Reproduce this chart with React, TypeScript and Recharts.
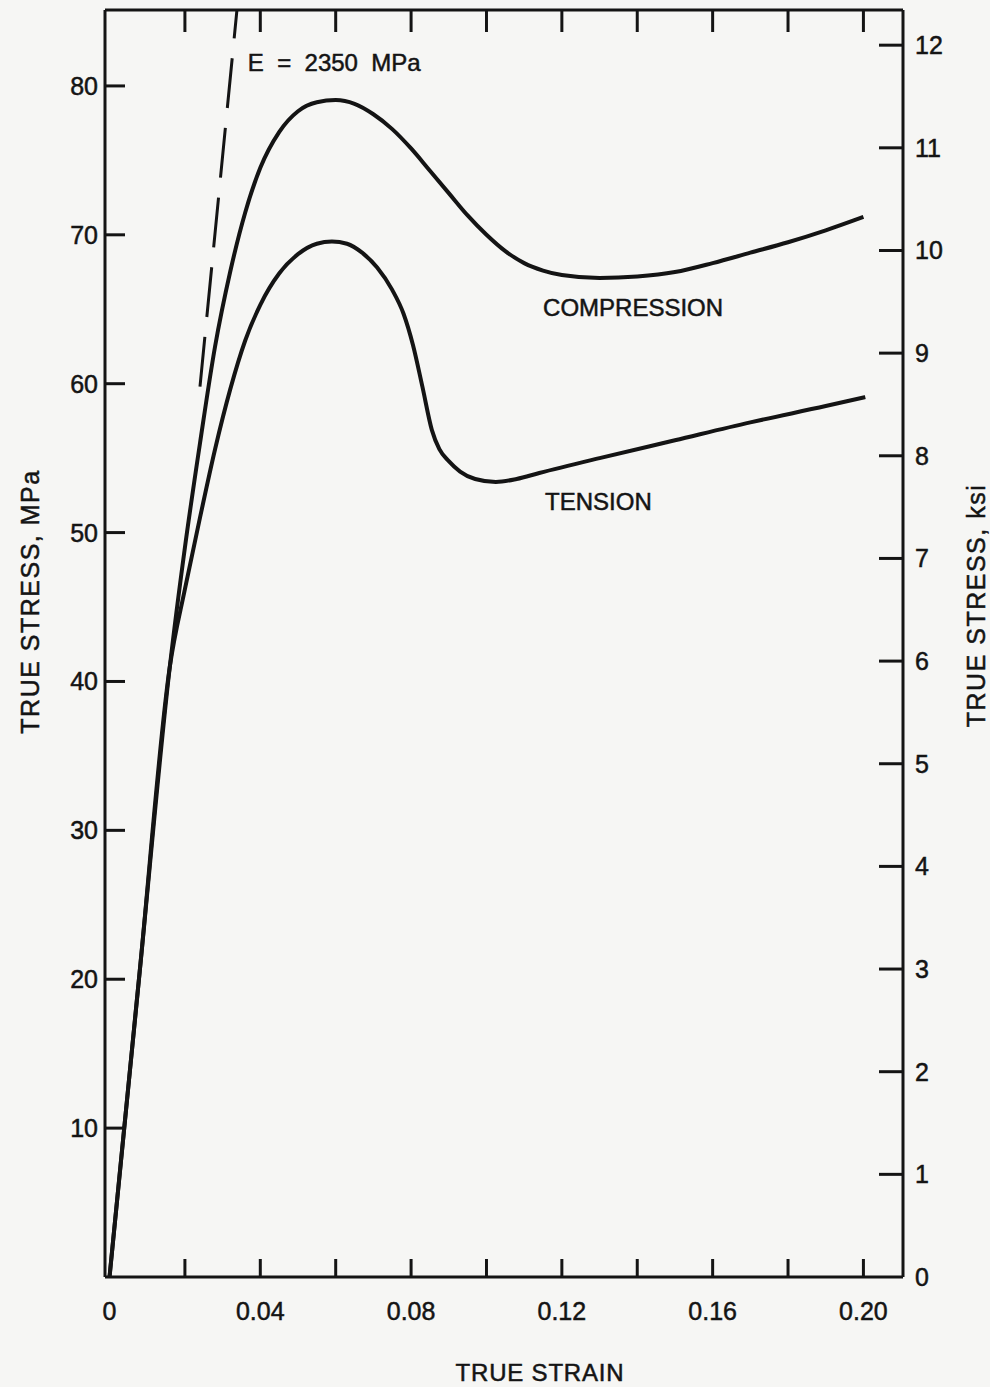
import { LineChart, Line, XAxis, YAxis, ReferenceDot } from "recharts";

const INK = "#141414";
const PAPER = "#f6f6f4";
const FONT = '"Liberation Sans", Arial, Helvetica, sans-serif';

// true strain vs true stress (MPa)
const compressionStrain = [
  0, 0.008, 0.016, 0.02, 0.024, 0.028, 0.032, 0.036, 0.04, 0.045, 0.05, 0.055, 0.06, 0.065, 0.07,
  0.075, 0.08, 0.085, 0.09, 0.095, 0.1, 0.105, 0.11, 0.115, 0.12, 0.13, 0.14, 0.15, 0.16, 0.17,
  0.18, 0.19, 0.2,
];
const compressionStress = [
  0, 20.5, 41, 49, 56, 62.5, 67.5, 71.5, 74.5, 76.9, 78.3, 78.9, 79.05, 78.8, 78.1,
  77.1, 75.8, 74.3, 72.8, 71.3, 70, 68.9, 68.1, 67.6, 67.3, 67.1, 67.2, 67.5, 68.1, 68.8,
  69.5, 70.3, 71.2,
];

const tensionStrain = [
  0, 0.008, 0.016, 0.02, 0.024, 0.028, 0.032, 0.036, 0.04, 0.045, 0.05, 0.055, 0.059, 0.063, 0.067,
  0.071, 0.075, 0.078, 0.0805, 0.083, 0.0855, 0.0875, 0.09, 0.093, 0.097, 0.1025, 0.108, 0.114,
  0.13, 0.15, 0.17, 0.19, 0.2005,
];
const tensionStress = [
  0, 20.5, 41, 46.2, 51, 55.6, 59.6, 62.9, 65.3, 67.4, 68.7, 69.4, 69.55, 69.4, 68.8,
  67.8, 66.3, 64.7, 62.6, 59.8, 56.9, 55.6, 54.8, 54.1, 53.6, 53.4, 53.6, 54,
  55, 56.2, 57.4, 58.5, 59.1,
];

// dashed modulus line, E = 2350 MPa
const modulusStrain = [0.024, 0.0338];
const modulusStress = [59.8, 85.1];

const strainTicks = [0, 0.02, 0.04, 0.06, 0.08, 0.1, 0.12, 0.14, 0.16, 0.18, 0.2];
const strainTickLabels = ["0", "", "0.04", "", "0.08", "", "0.12", "", "0.16", "", "0.20"];
const mpaTicks = [10, 20, 30, 40, 50, 60, 70, 80];
const ksiTicks = [0, 1, 2, 3, 4, 5, 6, 7, 8, 9, 10, 11, 12];

const MPA_PER_KSI = 6.8948;
const STRAIN_DOMAIN = [-0.0012, 0.2105];
const MPA_DOMAIN = [0, 85.1];
const KSI_DOMAIN = [0, 85.1 / MPA_PER_KSI];

const toPoints = (xs: number[], ys: number[]) => xs.map((strain, i) => ({ strain, stress: ys[i] }));

const compression = toPoints(compressionStrain, compressionStress);
const tension = toPoints(tensionStrain, tensionStress);
const modulus = toPoints(modulusStrain, modulusStress);

// scanned type is a little heavier than the regular face
const textStyle = { fontFamily: FONT, fill: INK, stroke: INK, strokeWidth: 0.5 };

const BottomTick = (p: any) => {
  const label = strainTickLabels[strainTicks.indexOf(p.payload.value)] ?? "";
  return (
    <g>
      {p.payload.value > 0 && <line x1={p.x} y1={p.y} x2={p.x} y2={p.y - 18} stroke={INK} strokeWidth={3} />}
      {label && (
        <text x={p.x} y={p.y + 34} textAnchor="middle" dominantBaseline="central" fontSize={25} {...textStyle}>
          {label}
        </text>
      )}
    </g>
  );
};

const TopTick = (p: any) =>
  p.payload.value > 0 ? <line x1={p.x} y1={p.y} x2={p.x} y2={p.y + 22} stroke={INK} strokeWidth={3} /> : <g />;

const LeftTick = (p: any) => (
  <g>
    <line x1={p.x} y1={p.y} x2={p.x + 20} y2={p.y} stroke={INK} strokeWidth={3} />
    <text x={p.x - 7} y={p.y} textAnchor="end" dominantBaseline="central" fontSize={25} {...textStyle}>
      {p.payload.value}
    </text>
  </g>
);

const RightTick = (p: any) => (
  <g>
    {p.payload.value > 0 && <line x1={p.x} y1={p.y} x2={p.x - 24} y2={p.y} stroke={INK} strokeWidth={3} />}
    <text x={p.x + 12} y={p.y} textAnchor="start" dominantBaseline="central" fontSize={25} {...textStyle}>
      {p.payload.value}
    </text>
  </g>
);

const VerticalTitle = ({ viewBox, dx, dy, text }: any) => {
  const cx = viewBox.x + dx;
  const cy = viewBox.y + viewBox.height / 2 + dy;
  return (
    <text
      x={cx}
      y={cy}
      transform={`rotate(-90 ${cx} ${cy})`}
      textAnchor="middle"
      dominantBaseline="central"
      fontSize={25}
      letterSpacing={1.5}
      {...textStyle}
    >
      {text}
    </text>
  );
};

const StrainTitle = ({ viewBox }: any) => (
  <text
    x={viewBox.x + viewBox.width / 2 + 36}
    y={viewBox.y + 95}
    textAnchor="middle"
    dominantBaseline="central"
    fontSize={24}
    letterSpacing={0.8}
    {...textStyle}
  >
    TRUE STRAIN
  </text>
);

const note = (value: string, anchor: "middle" | "start") => (p: any) => {
  const vb = p.viewBox;
  return (
    <text
      x={vb.x + (vb.width || 0) / 2}
      y={vb.y + (vb.height || 0) / 2}
      textAnchor={anchor}
      dominantBaseline="central"
      fontSize={24}
      style={{ whiteSpace: "pre" }}
      {...textStyle}
    >
      {value}
    </text>
  );
};

export default function App() {
  return (
    <div style={{ position: "absolute", left: 0, top: 0, width: 990, height: 1387, background: PAPER }}>
      <LineChart width={990} height={1387} margin={{ top: 0, right: 0, bottom: 0, left: 0 }}>
        <XAxis
          xAxisId="bottom"
          dataKey="strain"
          type="number"
          domain={STRAIN_DOMAIN}
          ticks={strainTicks}
          allowDataOverflow
          height={110}
          tickSize={0}
          tickMargin={0}
          tickLine={false}
          interval={0}
          axisLine={{ stroke: INK, strokeWidth: 3 }}
          tick={<BottomTick />}
          label={{ content: <StrainTitle /> }}
        />
        <XAxis
          xAxisId="top"
          orientation="top"
          dataKey="strain"
          type="number"
          domain={STRAIN_DOMAIN}
          ticks={strainTicks}
          allowDataOverflow
          height={10}
          tickSize={0}
          tickMargin={0}
          tickLine={false}
          interval={0}
          axisLine={{ stroke: INK, strokeWidth: 3 }}
          tick={<TopTick />}
        />
        <YAxis
          yAxisId="mpa"
          type="number"
          domain={MPA_DOMAIN}
          ticks={mpaTicks}
          allowDataOverflow
          width={105}
          tickSize={0}
          tickMargin={0}
          tickLine={false}
          interval={0}
          axisLine={{ stroke: INK, strokeWidth: 3 }}
          tick={<LeftTick />}
          label={{ content: <VerticalTitle dx={30} dy={-42} text="TRUE STRESS, MPa" /> }}
        />
        <YAxis
          yAxisId="ksi"
          orientation="right"
          type="number"
          domain={KSI_DOMAIN}
          ticks={ksiTicks}
          allowDataOverflow
          width={87}
          tickSize={0}
          tickMargin={0}
          tickLine={false}
          interval={0}
          axisLine={{ stroke: INK, strokeWidth: 3 }}
          tick={<RightTick />}
          label={{ content: <VerticalTitle dx={73} dy={-38} text="TRUE STRESS, ksi" /> }}
        />

        <Line
          xAxisId="bottom"
          yAxisId="mpa"
          data={modulus}
          dataKey="stress"
          type="linear"
          stroke={INK}
          strokeWidth={3}
          strokeDasharray="50 20"
          dot={false}
          activeDot={false}
          isAnimationActive={false}
        />
        <Line
          xAxisId="bottom"
          yAxisId="mpa"
          data={compression}
          dataKey="stress"
          type="monotone"
          stroke={INK}
          strokeWidth={4}
          dot={false}
          activeDot={false}
          isAnimationActive={false}
        />
        <Line
          xAxisId="bottom"
          yAxisId="mpa"
          data={tension}
          dataKey="stress"
          type="monotone"
          stroke={INK}
          strokeWidth={4}
          dot={false}
          activeDot={false}
          isAnimationActive={false}
        />

        <ReferenceDot xAxisId="bottom" yAxisId="mpa" x={0.1389} y={65.1} r={0} fill="none" stroke="none"
          label={{ content: note("COMPRESSION", "middle") }} />
        <ReferenceDot xAxisId="bottom" yAxisId="mpa" x={0.1297} y={52.1} r={0} fill="none" stroke="none"
          label={{ content: note("TENSION", "middle") }} />
        <ReferenceDot xAxisId="bottom" yAxisId="mpa" x={0.0367} y={81.6} r={0} fill="none" stroke="none"
          label={{ content: note("E  =  2350  MPa", "start") }} />
      </LineChart>
    </div>
  );
}
